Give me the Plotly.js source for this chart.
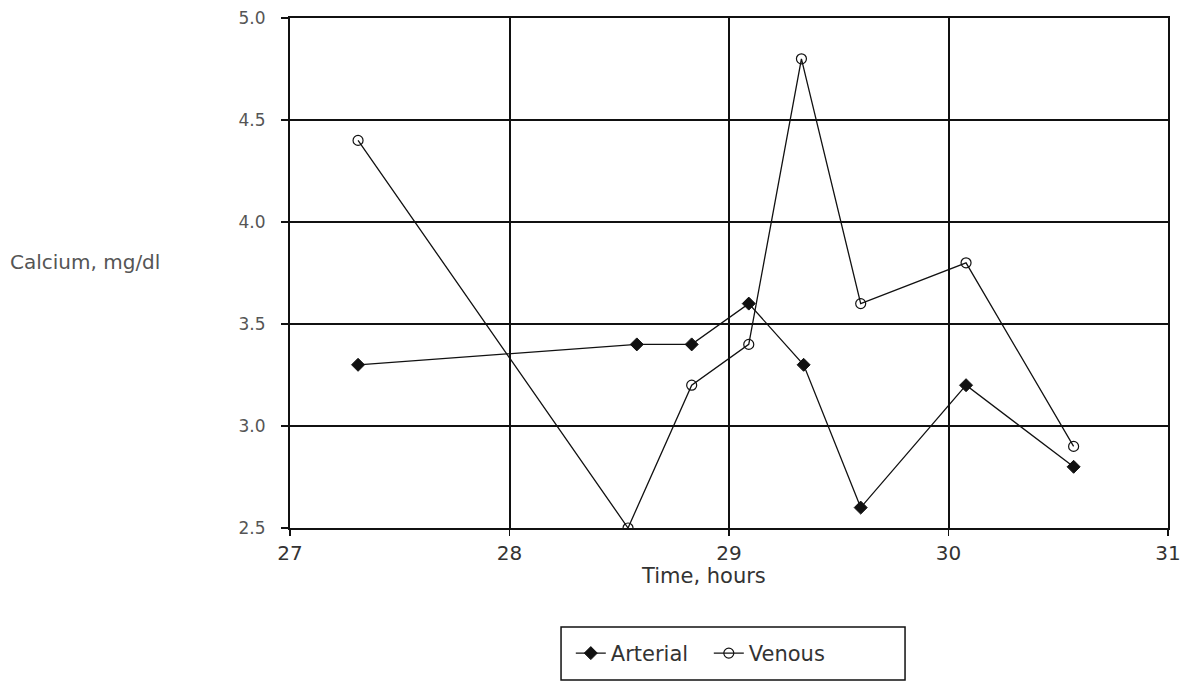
<!DOCTYPE html>
<html>
<head>
<meta charset="utf-8">
<script src="https://cdn.plot.ly/plotly-3.0.1.min.js"></script>
<style>html,body{margin:0;padding:0;background:#fff;}#chart{width:1193px;height:695px;}</style>
</head>
<body>
<div id="chart"></div>
<script>
// Time, hours
const arterialTime = [27.31, 28.58, 28.83, 29.09, 29.34, 29.60, 30.08, 30.57];
const arterialCalcium = [3.3, 3.4, 3.4, 3.6, 3.3, 2.6, 3.2, 2.8];
const venousTime = [27.31, 28.54, 28.83, 29.09, 29.33, 29.60, 30.08, 30.57];
const venousCalcium = [4.4, 2.5, 3.2, 3.4, 4.8, 3.6, 3.8, 2.9];
const xTicks = [27, 28, 29, 30, 31];
const yTicks = [2.5, 3.0, 3.5, 4.0, 4.5, 5.0];
const seriesNames = ['Arterial', 'Venous'];
const xTitle = 'Time, hours';
const yTitle = 'Calcium, mg/dl';

const font = 'DejaVu Sans, Arial, sans-serif';
const ink = '#111';

const traces = [
  {
    x: arterialTime, y: arterialCalcium, name: seriesNames[0],
    mode: 'lines+markers', type: 'scatter',
    line: {color: ink, width: 1.3},
    marker: {symbol: 'diamond', size: 10, color: ink, line: {color: ink, width: 1}}
  },
  {
    x: venousTime, y: venousCalcium, name: seriesNames[1],
    mode: 'lines+markers', type: 'scatter',
    line: {color: ink, width: 1.3},
    marker: {symbol: 'circle-open', size: 10, color: ink, line: {color: ink, width: 1.2}}
  }
];

const layout = {
  width: 1193, height: 695,
  paper_bgcolor: '#fff', plot_bgcolor: '#fff',
  margin: {l: 290, r: 25, t: 18, b: 167},
  showlegend: true,
  font: {family: font, color: '#444'},
  xaxis: {
    range: [27, 31], tickvals: xTicks, ticktext: xTicks.map(String),
    showgrid: true, gridcolor: ink, gridwidth: 2,
    showline: true, linecolor: ink, linewidth: 2, mirror: true,
    ticks: 'outside', ticklen: 6, tickcolor: ink, tickwidth: 1.5,
    tickfont: {size: 20, color: '#333'},
    zeroline: false
  },
  yaxis: {
    range: [2.5, 5.0], tickvals: yTicks, ticktext: yTicks.map(v => v.toFixed(1)),
    showgrid: true, gridcolor: ink, gridwidth: 2,
    showline: true, linecolor: ink, linewidth: 2, mirror: true,
    ticks: 'outside', ticklen: 7, tickcolor: ink, tickwidth: 1.5,
    ticklabelstandoff: 12,
    tickfont: {size: 17, color: '#555'},
    zeroline: false
  },
  annotations: [
    {
      text: yTitle, xref: 'paper', yref: 'paper',
      x: -0.321, y: 0.522, xanchor: 'left', yanchor: 'middle',
      showarrow: false, font: {size: 20, color: '#555', family: font}
    },
    {
      text: xTitle, xref: 'paper', yref: 'paper',
      x: 0.4715, y: -0.094, xanchor: 'center', yanchor: 'middle',
      showarrow: false, font: {size: 21, color: '#333', family: font}
    }
  ],
  shapes: [{
    type: 'rect', xref: 'paper', yref: 'paper',
    x0: 0.3087, x1: 0.7005, y0: -0.298, y1: -0.194,
    line: {color: ink, width: 1.5}, fillcolor: 'rgba(0,0,0,0)'
  }],
  legend: {
    orientation: 'h', x: 0.477, xanchor: 'center', y: -0.246, yanchor: 'middle',
    borderwidth: 0, bgcolor: 'rgba(0,0,0,0)',
    font: {size: 21, color: '#333'},
    itemwidth: 30, entrywidth: 93, entrywidthmode: 'pixels'
  }
};

Plotly.newPlot('chart', traces, layout, {displayModeBar: false, staticPlot: true});
</script>
</body>
</html>
